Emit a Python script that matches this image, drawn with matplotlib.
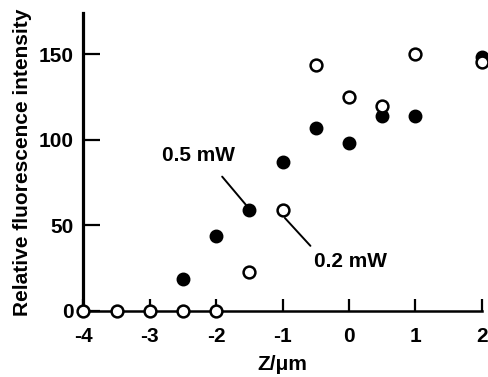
import matplotlib
matplotlib.use("Agg")
import matplotlib.pyplot as plt

z_open = [-4, -3.5, -3, -2.5, -2, -1.5, -1, -0.5, 0, 0.5, 1, 2]
i_open = [0, 0, 0, 0, 0, 22.8, 58.9, 143.8, 124.9, 119.8, 150.2, 145.7]  # 0.2 mW
z_fill = [-2.5, -2, -1.5, -1, -0.5, 0, 0.5, 1, 2]
i_fill = [18.4, 43.5, 58.9, 87.2, 106.7, 98.3, 114, 114, 148.6]  # 0.5 mW
xticks = [-4, -3, -2, -1, 0, 1, 2]
yticks = [0, 50, 100, 150]

plt.rcParams['font.family'] = ['Liberation Sans', 'DejaVu Sans']
plt.rcParams['font.weight'] = 'bold'

FS = 15

fig = plt.figure(figsize=(4.88, 3.77), dpi=100)
ax = fig.add_axes([0.171, 0.176, 0.816, 0.789])

ax.plot(z_fill, i_fill, 'o', ms=8.5, mfc='black', mec='black', mew=1.5,
        clip_on=False, zorder=3)
ax.plot(z_open, i_open, 'o', ms=8.5, mfc='white', mec='black', mew=1.8,
        clip_on=False, zorder=4)

ax.set_xlim(-4, 2)
ax.set_ylim(0, 174)
ax.set_xticks(xticks)
ax.set_yticks(yticks)
ax.set_xticklabels([str(t) for t in xticks])
ax.set_yticklabels([str(t) for t in yticks])

for s in ['top', 'right']:
    ax.spines[s].set_visible(False)
ax.spines['left'].set_linewidth(2.3)
ax.spines['bottom'].set_linewidth(1.8)

ax.tick_params(axis='x', direction='in', length=9, width=1.6, pad=12,
               labelsize=FS)
ax.tick_params(axis='y', direction='in', length=12, width=1.6, pad=7,
               labelsize=FS)

ax.set_xlabel('Z/\u03bcm', fontsize=FS, fontweight='bold', labelpad=6)
ax.set_ylabel('Relative fluorescence intensity', fontsize=FS,
              fontweight='bold', labelpad=5)

# annotation labels and leader lines
ax.text(-2.27, 91, '0.5 mW', fontsize=FS, fontweight='bold',
        ha='center', va='center')
ax.annotate('', xy=(-1.55, 61.8), xytext=(-1.91, 78.4),
            arrowprops=dict(arrowstyle='-', lw=1.4, color='black',
                            shrinkA=0, shrinkB=0))
ax.text(0.03, 28.5, '0.2 mW', fontsize=FS, fontweight='bold',
        ha='center', va='center')
ax.annotate('', xy=(-0.58, 37.9), xytext=(-0.965, 54.2),
            arrowprops=dict(arrowstyle='-', lw=1.4, color='black',
                            shrinkA=0, shrinkB=0))

fig.savefig('out.png', dpi=100)
